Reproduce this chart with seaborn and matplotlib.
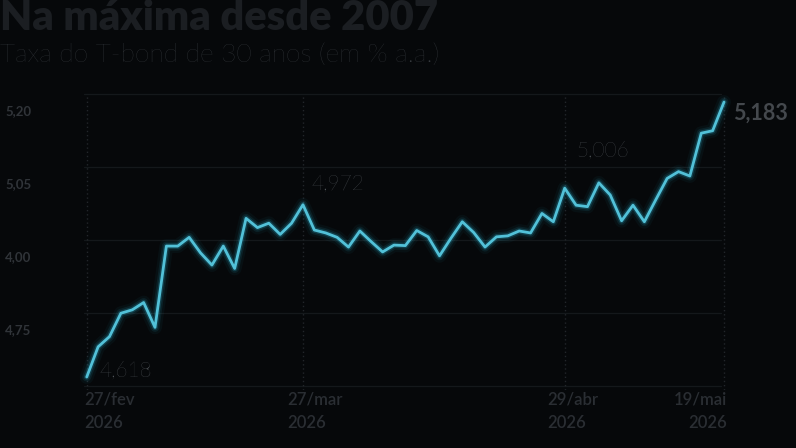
import matplotlib
matplotlib.use("Agg")
import matplotlib.pyplot as plt
import matplotlib.transforms as mtransforms
import seaborn as sns
import pandas as pd

# ---- data ----
values = [4.618, 4.680, 4.701, 4.749, 4.756, 4.771, 4.720, 4.887, 4.887, 4.905,
          4.873, 4.848, 4.887, 4.841, 4.944, 4.925, 4.934, 4.911, 4.934, 4.972,
          4.920, 4.914, 4.905, 4.885, 4.918, 4.896, 4.875, 4.889, 4.888, 4.919,
          4.906, 4.867, 4.903, 4.937, 4.915, 4.885, 4.906, 4.908, 4.918, 4.914,
          4.954, 4.937, 5.006, 4.971, 4.968, 5.017, 4.992, 4.939, 4.971, 4.937,
          4.982, 5.026, 5.040, 5.031, 5.119, 5.124, 5.183]
tick_idx = [0, 19, 42, 56]
tick_labels = ["27/fev\n2026", "27/mar\n2026", "29/abr\n2026", "19/mai\n2026"]
ytick_vals = [5.20, 5.05, 4.90, 4.75]
ytick_labels = ["5,20", "5,05", "4,00", "4,75"]
annot_idx = [0, 19, 42, 56]
annot_text = ["4,618", "4,972", "5,006", "5,183"]
title = "Na máxima desde 2007"
subtitle = "Taxa do T-bond de 30 anos (em % a.a.)"

df = pd.DataFrame({"i": range(len(values)), "v": values})

BG = "#06080a"
sns.set_style("dark", {"axes.facecolor": BG, "figure.facecolor": BG})
plt.rcParams["font.family"] = ["Lato", "DejaVu Sans"]

fig = plt.figure(figsize=(7.96, 4.48), dpi=100)
fig.patch.set_facecolor(BG)
W, H = 796, 448
ax = fig.add_axes([70 / W, (H - 390) / H, 700 / W, 300 / H])
ax.set_facecolor(BG)
ax.set_xlim(-1.47, 60.04)
ax.set_ylim(4.5913, 5.2077)
for s in ax.spines.values():
    s.set_visible(False)
ax.set_xticks([])
ax.set_yticks([])
ax.grid(False)

# horizontal grid
for v in ytick_vals + [4.60]:
    ax.axhline(v, xmin=0.02, xmax=0.93, color="#14181b", lw=0.9, zorder=1)
# vertical dotted lines
for t in tick_idx:
    ax.axvline(t, ymin=0.0, ymax=0.985, color="#22262a", lw=1.0, ls=(0, (1, 2)), zorder=1)

# glowing line
for lw, a in [(10, 0.05), (6.5, 0.11), (4, 0.24)]:
    sns.lineplot(data=df, x="i", y="v", ax=ax, color="#2aa9c6", lw=lw, alpha=a, zorder=3)
sns.lineplot(data=df, x="i", y="v", ax=ax, color="#52c1d8", lw=2.0, zorder=4)
ax.set_xlabel("")
ax.set_ylabel("")

# y tick labels (placed below their gridline)
ytr = mtransforms.blended_transform_factory(fig.transFigure, ax.transData) + \
    mtransforms.ScaledTranslation(0, -17 / 100, fig.dpi_scale_trans)
for v, lab in zip(ytick_vals, ytick_labels):
    ax.text(5 / W, v, lab, transform=ytr, ha="left", va="center",
            fontsize=9.5, fontweight="bold", color="#303439")

# x tick labels
xt = mtransforms.blended_transform_factory(ax.transData, fig.transFigure)
x_off = [-0.25, -1.35, -1.5, 0.25]
x_ha = ["left", "left", "left", "right"]
for t, lab, o, ha in zip(tick_idx, tick_labels, x_off, x_ha):
    ax.text(t + o, (H - 391) / H, lab, transform=xt, ha=ha, va="top",
            fontsize=12, fontweight="semibold", color="#2a2e33", linespacing=1.6)

# annotations
offs = [(13, 7), (8, 21), (12, 38), (9, -11)]
for k, (i, txt) in enumerate(zip(annot_idx, annot_text)):
    dx, dy = offs[k]
    ax.annotate(txt, (i, values[i]), xytext=(dx, dy), textcoords="offset pixels",
                ha="left", va="center", fontsize=15 if k < 3 else 15.5,
                fontweight="light" if k < 3 else "bold",
                color="#5c6166" if k < 3 else "#44484d")

# titles
fig.text(0 / W, 1 - 30 / H, title, ha="left", va="baseline", fontsize=30,
         fontweight="heavy", color="#1b1e22")
fig.text(0 / W, 1 - 62 / H, subtitle, ha="left", va="baseline", fontsize=19,
         fontweight="light", color="#3b3f44")

fig.savefig("out.png", dpi=100, facecolor=BG)
